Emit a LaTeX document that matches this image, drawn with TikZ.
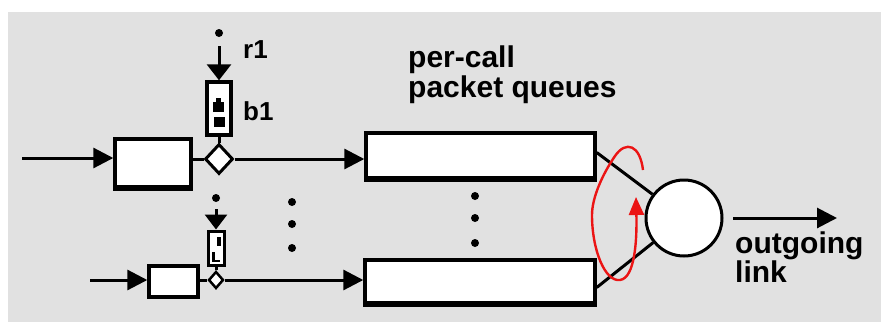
\documentclass[tikz,border=0pt]{standalone}
\usepackage{fontspec}
\setmainfont{Liberation Sans}
\usetikzlibrary{shapes.geometric,arrows.meta,calc}
\definecolor{bggray}{RGB}{225,225,225}
\definecolor{loopred}{RGB}{235,20,20}
\tikzset{
  box/.style={draw,fill=white,line width=3.4pt,inner sep=0pt,rectangle},
  gate/.style={draw,fill=white,line width=3pt,diamond,inner sep=0pt},
  conn/.style={line width=3pt},
  arr/.style={line width=3pt,-{Triangle[length=20pt,width=20pt]}},
  sarr/.style={line width=3pt,-{Triangle[length=16pt,width=24pt]}},
  dot/.style={circle,fill=black,inner sep=0pt,minimum size=8pt},
  lbl/.style={font=\bfseries\fontsize{30}{32}\selectfont,inner sep=0pt,anchor=base west},
  slbl/.style={font=\bfseries\fontsize{26}{28}\selectfont,inner sep=0pt,anchor=base west},
}
\begin{document}
\begin{tikzpicture}[x=1pt,y=-1pt]
\useasboundingbox (0,0) rectangle (881,322);
\fill[white] (0,0) rectangle (881,322);
\fill[bggray] (8,12) rectangle (881,322);

% top row
\coordinate (in1) at (22,158);
\node[box,minimum width=76pt,minimum height=48pt] (box1) at (153,163) {};
\draw[line width=2pt] ([yshift=-1.5pt]box1.south west) -- ([yshift=-1.5pt]box1.south east);
\node[gate,minimum width=28pt,minimum height=30pt] (d1) at (219,159) {};
\node[box,minimum width=24pt,minimum height=53pt] (b1) at (219,108.5) {};
\fill (213,102) rectangle (224,112);
\fill (216,98) rectangle (221,103);
\fill (214,117) rectangle (225,127);
\node[dot] (t1) at (219,33) {};
\node[box,minimum width=229pt,minimum height=45pt] (q1) at (480.5,155.5) {};
\draw[line width=2pt] ([yshift=-1.5pt]q1.south west) -- ([yshift=-1.5pt]q1.south east);

\draw[arr] (in1) -- (in1 -| box1.west);
\draw[conn] (box1.east |- d1) -- (d1.west);
\draw[conn] (b1.south) -- (d1.north);
\draw[sarr,shorten <=9pt] (t1) -- (b1.north);
\draw[arr] (d1.east) -- (d1 -| q1.west);

% bottom row
\coordinate (in2) at (90,280);
\node[box,minimum width=49pt,minimum height=31pt] (box2) at (173.5,281.5) {};
\node[gate,minimum width=15pt,minimum height=17pt,line width=2.5pt] (d2) at (216,280) {};
\node[box,minimum width=16pt,minimum height=34pt,line width=3pt] (b2) at (216,248) {};
\fill (217,237) rectangle (221,246);
\fill (212,252) rectangle (214.5,262);
\fill (212,259.5) rectangle (220,262);
\node[dot,minimum size=8pt] (t2) at (216,198) {};
\node[box,minimum width=230pt,minimum height=43pt] (q2) at (480,281.5) {};
\draw[line width=2pt] ([yshift=-1.5pt]q2.south west) -- ([yshift=-1.5pt]q2.south east);

\draw[arr] (in2) -- (in2 -| box2.west);
\draw[conn] (box2.east |- d2) -- (d2.west);
\draw[conn] (b2.south) -- (d2.north);
\draw[line width=3pt,-{Triangle[length=15pt,width=22pt]},shorten <=7pt] (t2) -- (b2.north);
\draw[arr] (d2.east) -- (d2 -| q2.west);

% ellipsis dots
\node[dot] (e1) at (292,202) {};
\node[dot] (e2) at (292,224) {};
\node[dot] (e3) at (292,248) {};
\node[dot] (f1) at (475,196) {};
\node[dot] (f2) at (475,218) {};
\node[dot] (f3) at (475,243) {};

% server
\node[draw,fill=white,circle,line width=3pt,minimum size=76pt,inner sep=0pt] (srv) at (684,218) {};
\draw[conn] ([yshift=3pt]q1.east) -- (srv);
\draw[conn] ([yshift=-6pt]q2.east) -- (srv);
\coordinate (out) at (837,218);
\draw[arr] (srv.east -| 733,0) -- (out);

% round robin loop
\draw[loopred,line width=2.4pt,-{Triangle[length=18pt,width=15pt]}]
  (643,170) .. controls (640,145) and (626,140) .. (615,156)
  .. controls (602,175) and (592,198) .. (592,215)
  .. controls (592,250) and (605,282) .. (620,280)
  .. controls (635,278) and (637,240) .. (636,197);

% labels
\node[slbl] (r1) at (243,58) {r1};
\node[slbl] (bl1) at (243,120) {b1};
\node[lbl] (pc1) at (408,67) {per-call};
\node[lbl] (pc2) at (408,97) {packet queues};
\node[lbl] (og1) at (735,253) {outgoing};
\node[lbl] (og2) at (735,282) {link};
\end{tikzpicture}
\end{document}
